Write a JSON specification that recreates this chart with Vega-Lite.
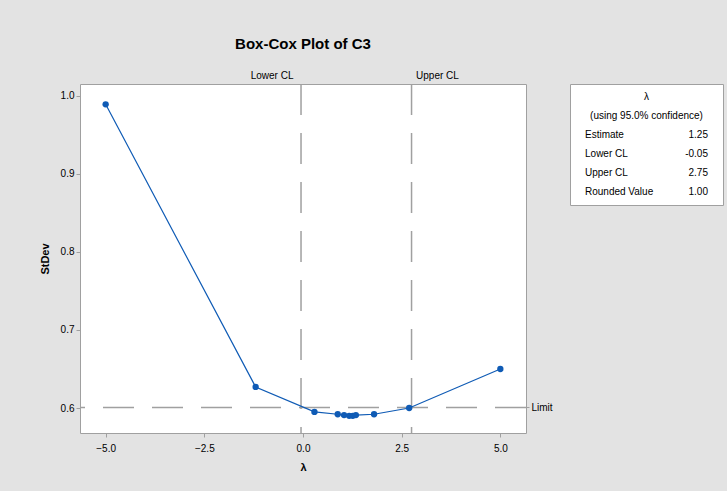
{
  "$schema": "https://vega.github.io/schema/vega-lite/v6.json",
  "background": "#e3e3e3",
  "padding": {"left": 38, "top": 36, "right": 6, "bottom": 20},
  "spacing": 16,
  "datasets": {
    "boxcox": [
      {"lambda": -5.0, "stdev": 0.989},
      {"lambda": -1.2, "stdev": 0.627},
      {"lambda": 0.29, "stdev": 0.595},
      {"lambda": 0.88, "stdev": 0.592},
      {"lambda": 1.04, "stdev": 0.591},
      {"lambda": 1.17, "stdev": 0.590},
      {"lambda": 1.26, "stdev": 0.590},
      {"lambda": 1.34, "stdev": 0.591},
      {"lambda": 1.80, "stdev": 0.592},
      {"lambda": 2.69, "stdev": 0.600},
      {"lambda": 5.0, "stdev": 0.650}
    ],
    "ci": [
      {"bound": "Lower CL", "lambda": -0.05},
      {"bound": "Upper CL", "lambda": 2.75}
    ],
    "limit": [{"label": "Limit", "stdev": 0.6008}],
    "table": [
      {"row": 1, "col": "c", "text": "λ"},
      {"row": 2, "col": "c", "text": "(using 95.0% confidence)"},
      {"row": 3, "col": "l", "text": "Estimate"},
      {"row": 3, "col": "r", "text": "1.25"},
      {"row": 4, "col": "l", "text": "Lower CL"},
      {"row": 4, "col": "r", "text": "-0.05"},
      {"row": 5, "col": "l", "text": "Upper CL"},
      {"row": 5, "col": "r", "text": "2.75"},
      {"row": 6, "col": "l", "text": "Rounded Value"},
      {"row": 6, "col": "r", "text": "1.00"}
    ]
  },
  "config": {
    "font": "Liberation Sans",
    "axis": {
      "labelFont": "Liberation Sans",
      "labelFontSize": 10,
      "labelColor": "#000000",
      "titleFont": "Liberation Sans",
      "titleFontSize": 11,
      "titleFontWeight": "bold",
      "titleColor": "#000000",
      "tickColor": "#a0a0a0",
      "domain": false,
      "grid": false,
      "tickSize": 4
    },
    "view": {"stroke": "#a0a0a0", "fill": "white"}
  },
  "hconcat": [
    {
      "width": 446,
      "height": 349,
      "title": {"text": "Box-Cox Plot of C3", "fontSize": 15, "fontWeight": "bold", "anchor": "middle", "offset": 18, "color": "#000000", "font": "Liberation Sans"},
      "layer": [
        {
          "data": {"name": "limit"},
          "mark": {"type": "rule", "color": "#a0a0a0", "strokeWidth": 1.5, "strokeDash": [31, 18]},
          "encoding": {
            "y": {
              "field": "stdev", "type": "quantitative",
              "scale": {"domain": [0.568, 1.015], "nice": false, "zero": false},
              "axis": {"orient": "right", "values": [0.6008], "labelExpr": "'Limit'", "tickSize": 3, "labelPadding": 2, "title": null}
            }
          }
        },
        {
          "data": {"name": "ci"},
          "mark": {"type": "rule", "color": "#a0a0a0", "strokeWidth": 1.5, "strokeDash": [31, 18]},
          "encoding": {
            "x": {
              "field": "lambda", "type": "quantitative",
              "scale": {"domain": [-5.65, 5.65], "nice": false, "zero": false},
              "axis": {
                "orient": "top", "values": [-0.05, 2.75],
                "labelExpr": "datum.value < 1 ? 'Lower CL' : 'Upper CL'",
                "labelAlign": {"condition": {"test": "datum.value < 1", "value": "right"}, "value": "left"},
                "labelOffset": {"condition": {"test": "datum.value < 1", "value": -8}, "value": 4},
                "ticks": false, "labelPadding": 4, "title": null
              }
            }
          }
        },
        {
          "data": {"name": "boxcox"},
          "mark": {"type": "line", "color": "#0f5bb5", "strokeWidth": 1.2, "point": {"filled": true, "size": 40, "color": "#0f5bb5"}},
          "encoding": {
            "x": {
              "field": "lambda", "type": "quantitative",
              "scale": {"domain": [-5.65, 5.65], "nice": false, "zero": false},
              "axis": {"values": [-5, -2.5, 0, 2.5, 5], "format": ".1f", "title": "λ", "labelPadding": 6, "titlePadding": 8}
            },
            "y": {
              "field": "stdev", "type": "quantitative",
              "scale": {"domain": [0.568, 1.015], "nice": false, "zero": false},
              "axis": {"values": [0.6, 0.7, 0.8, 0.9, 1.0], "format": ".1f", "title": "StDev", "titlePadding": 10}
            }
          }
        }
      ],
      "resolve": {"axis": {"x": "independent", "y": "independent"}}
    },
    {
      "width": 153,
      "height": 121,
      "view": {"stroke": "#a0a0a0", "fill": "white"},
      "data": {"name": "table"},
      "encoding": {
        "x": {"field": "col", "type": "nominal", "scale": {"type": "point", "domain": ["l", "c", "r"], "padding": 0.244}, "axis": null},
        "y": {"field": "row", "type": "ordinal", "scale": {"type": "point", "padding": 0.7}, "axis": null},
        "text": {"field": "text"}
      },
      "layer": [
        {"transform": [{"filter": "datum.col === 'l'"}], "mark": {"type": "text", "align": "left", "fontSize": 10, "color": "#000000"}},
        {"transform": [{"filter": "datum.col === 'c'"}], "mark": {"type": "text", "align": "center", "fontSize": 10, "color": "#000000"}},
        {"transform": [{"filter": "datum.col === 'r'"}], "mark": {"type": "text", "align": "right", "fontSize": 10, "color": "#000000"}}
      ]
    }
  ]
}
